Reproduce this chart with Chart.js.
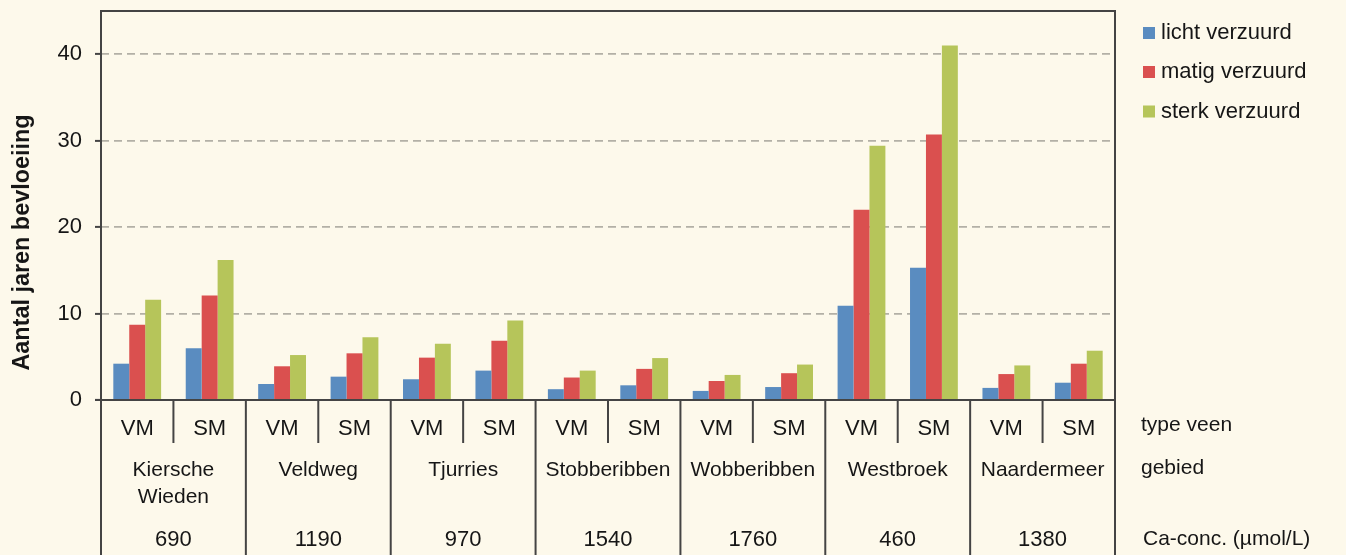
<!DOCTYPE html>
<html>
<head>
<meta charset="utf-8">
<script src="https://cdn.jsdelivr.net/npm/chart.js@4/dist/chart.umd.min.js"></script>
<style>
  html, body { margin: 0; padding: 0; background: #fdf9eb; }
  #wrap { width: 1346px; height: 555px; position: relative; }
</style>
</head>
<body>
<div id="wrap"><canvas id="c" width="1346" height="555"></canvas></div>
<script>
// ---- data ----
const typeVeen = ['VM','SM','VM','SM','VM','SM','VM','SM','VM','SM','VM','SM','VM','SM'];
const gebieden = ['Kiersche\nWieden','Veldweg','Tjurries','Stobberibben','Wobberibben','Westbroek','Naardermeer'];
const caConc = ['690','1190','970','1540','1760','460','1380'];
const seriesNames = ['licht verzuurd','matig verzuurd','sterk verzuurd'];
const licht = [4.2, 6.0, 1.85, 2.7, 2.4, 3.4, 1.25, 1.7, 1.05, 1.5, 10.9, 15.3, 1.4, 2.0];
const matig = [8.7, 12.1, 3.9, 5.4, 4.9, 6.85, 2.6, 3.6, 2.2, 3.1, 22.0, 30.7, 3.0, 4.2];
const sterk = [11.6, 16.2, 5.2, 7.25, 6.5, 9.2, 3.4, 4.85, 2.9, 4.1, 29.4, 41.0, 4.0, 5.7];
const rowLabels = ['type veen','gebied','Ca-conc. (\u00b5mol/L)'];
const yTitle = 'Aantal jaren bevloeiing';

const colors = ['#5a8cc0', '#da504f', '#b6c55a'];
const FONT = '"Liberation Sans", Arial, Helvetica, sans-serif';
const TXT = '#161616';
const LINE = '#444444';

const tablePlugin = {
  id: 'tablePlugin',
  beforeDraw(chart) {
    const ctx = chart.ctx;
    ctx.save();
    ctx.fillStyle = '#fdf9eb';
    ctx.fillRect(0, 0, chart.width, chart.height);
    ctx.restore();
  },
  afterDraw(chart) {
    const ctx = chart.ctx;
    const a = chart.chartArea;
    const xs = chart.scales.x;
    const n = typeVeen.length;
    const step = (a.right - a.left) / n;
    ctx.save();
    // frame
    ctx.strokeStyle = LINE;
    ctx.lineWidth = 2;
    ctx.beginPath();
    ctx.moveTo(a.left, a.bottom);
    ctx.lineTo(a.left, a.top);
    ctx.lineTo(a.right, a.top);
    ctx.lineTo(a.right, chart.height);
    ctx.stroke();
    // baseline
    ctx.beginPath();
    ctx.moveTo(a.left - 6, a.bottom);
    ctx.lineTo(a.right, a.bottom);
    ctx.stroke();
    // separators
    for (let k = 0; k <= n; k++) {
      const x = a.left + k * step;
      ctx.beginPath();
      ctx.moveTo(x, a.bottom);
      ctx.lineTo(x, k % 2 === 0 ? chart.height : a.bottom + 43);
      ctx.stroke();
    }
    // texts
    ctx.fillStyle = TXT;
    ctx.textAlign = 'center';
    ctx.textBaseline = 'middle';
    ctx.font = '22px ' + FONT;
    typeVeen.forEach((t, i) => {
      ctx.fillText(t, xs.getPixelForValue(i), a.bottom + 28.7);
    });
    ctx.font = '21px ' + FONT;
    gebieden.forEach((g, j) => {
      const cx = (xs.getPixelForValue(2 * j) + xs.getPixelForValue(2 * j + 1)) / 2;
      g.split('\n').forEach((ln, li) => {
        ctx.fillText(ln, cx, a.bottom + 70.5 + li * 27);
      });
    });
    ctx.font = '22px ' + FONT;
    caConc.forEach((c, j) => {
      const cx = (xs.getPixelForValue(2 * j) + xs.getPixelForValue(2 * j + 1)) / 2;
      ctx.fillText(c, cx, a.bottom + 140);
    });
    // row labels
    ctx.textAlign = 'left';
    ctx.font = '21px ' + FONT;
    ctx.fillText(rowLabels[0], a.right + 26, a.bottom + 25);
    ctx.fillText(rowLabels[1], a.right + 26, a.bottom + 68);
    ctx.fillText(rowLabels[2], a.right + 28, a.bottom + 139);
    // legend
    ctx.font = '22px ' + FONT;
    const legY = [33, 72, 111.5];
    chart.data.datasets.forEach((ds, i) => {
      ctx.fillStyle = ds.backgroundColor;
      ctx.fillRect(a.right + 28, legY[i] - 6, 12, 12);
      ctx.fillStyle = TXT;
      ctx.fillText(ds.label, a.right + 46, legY[i]);
    });
    // y title
    ctx.save();
    ctx.translate(23, 242.5);
    ctx.rotate(-Math.PI / 2);
    ctx.textAlign = 'center';
    ctx.font = 'bold 23.4px ' + FONT;
    ctx.fillText(yTitle, 0, 0);
    ctx.restore();
    ctx.restore();
  }
};

new Chart(document.getElementById('c'), {
  type: 'bar',
  data: {
    labels: typeVeen,
    datasets: [
      { label: seriesNames[0], data: licht, backgroundColor: colors[0] },
      { label: seriesNames[1], data: matig, backgroundColor: colors[1] },
      { label: seriesNames[2], data: sterk, backgroundColor: colors[2] }
    ]
  },
  options: {
    responsive: false,
    animation: false,
    devicePixelRatio: 1,
    layout: { padding: { top: 11, right: 231, bottom: 155, left: 0 } },
    datasets: { bar: { categoryPercentage: 0.66, barPercentage: 1.0, borderWidth: 0 } },
    plugins: { legend: { display: false }, tooltip: { enabled: false } },
    scales: {
      x: { display: false },
      y: {
        min: 0, max: 45,
        afterFit: (s) => { s.width = 101; s.paddingTop = 0; s.paddingBottom = 0; },
        ticks: { stepSize: 10, includeBounds: false, padding: 13, color: TXT, font: { family: FONT, size: 22 } },
        grid: {
          color: (c) => (c.tick && c.tick.value === 0) ? 'rgba(0,0,0,0)' : '#b3b0a6',
          lineWidth: 1.8,
          tickLength: 6,
          tickColor: LINE,
          tickWidth: 2,
          tickBorderDash: []
        },
        border: { display: false, dash: [8, 5] }
      }
    }
  },
  plugins: [tablePlugin]
});
</script>
</body>
</html>
